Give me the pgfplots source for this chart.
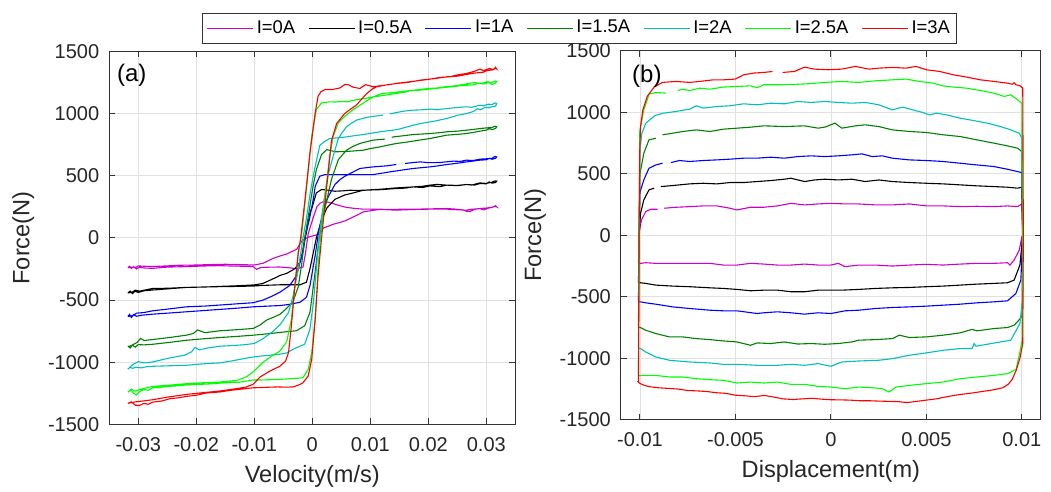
\documentclass[border=0pt]{standalone}
\usepackage{fontspec}
\setmainfont{Liberation Sans}
\usepackage{pgfplots}
\pgfplotsset{compat=1.18}
\definecolor{cM}{RGB}{204,0,204}
\definecolor{cK}{RGB}{0,0,0}
\definecolor{cB}{RGB}{0,0,255}
\definecolor{cDG}{RGB}{0,128,0}
\definecolor{cC}{RGB}{0,191,191}
\definecolor{cG}{RGB}{0,255,0}
\definecolor{cR}{RGB}{255,0,0}
\pgfplotsset{
  mat/.style={
    scale only axis,
    ymin=-1500, ymax=1500,
    ytick={-1500,-1000,-500,0,500,1000,1500},
    yticklabels={-1500,-1000,-500,0,500,1000,1500},
    scaled x ticks=false, scaled y ticks=false,
    grid=major,
    major grid style={draw=black!12, line width=0.4pt},
    axis line style={draw=black!80, line width=0.5pt},
    tick style={draw=black!80, line width=0.5pt},
    tick align=inside,
    major tick length=3pt,
    tick label style={font=\fontsize{10}{12}\selectfont, text=black!85},
    label style={font=\fontsize{11.8}{14}\selectfont, text=black!85},
    yticklabel style={xshift=-1.5pt},
    xticklabel style={yshift=-3pt},
    unbounded coords=jump,
    every axis plot/.append style={line width=0.55pt, no markers},
    ylabel={Force(N)},
  }
}
\begin{document}
\begin{tikzpicture}
\path[use as bounding box] (-54.65pt,-33.75pt) rectangle (470.85pt,212.25pt);
% ---------------- panel (a) ----------------
\begin{axis}[mat,
  at={(0pt,0pt)}, anchor=south west,
  width=203pt, height=186.6pt,
  xmin=-0.035, xmax=0.035,
  xtick={-0.03,-0.02,-0.01,0,0.01,0.02,0.03},
  xticklabels={-0.03,-0.02,-0.01,0,0.01,0.02,0.03},
  xlabel={Velocity(m/s)},
  legend columns=7,
  legend style={at={(1.1589,1.0622)}, anchor=center, draw=black!80, line width=0.5pt,
    font=\fontsize{9.2}{11}\selectfont, inner xsep=2pt, inner ysep=2pt,
    nodes={inner sep=1.5pt}, /tikz/every even column/.append style={column sep=5pt}},
  legend image code/.code={\draw[#1] (0pt,0pt) -- (23pt,0pt);},
]
% I=0A
\addplot[cM] coordinates {
(-0.0318,-240) (-0.0315,-228) (-0.0312,-245) (-0.0308,-232) (-0.0303,-250) (-0.0298,-235) (-0.029,-242) (-0.0275,-245) (-0.026,-238) (-0.025,-235) (-0.023,-232) (-0.0217,-231) (-0.02,-228) (-0.018,-225) (-0.016,-223) (-0.014,-226) (-0.012,-228) (-0.0102,-231) (-0.0096,-253) (-0.009,-240) (-0.0085,-237) (-0.007,-235) (-0.0056,-234) (-0.004,-240) (-0.0027,-248) (-0.0016,-234) (-0.0012,-130) (-0.0007,35) (0.0002,169) (0.0008,250) (0.0013,277) (0.0018,290) (0.0025,290) (0.0036,276) (0.0045,262) (0.0059,245) (0.0075,236) (0.0088,231) (0.0117,231) (0.013,226) (0.0145,223) (0.016,226) (0.0174,228) (0.019,230) (0.0203,231) (0.0232,231) (0.025,226) (0.0266,223) (0.0275,230) (0.0289,236) (0.03,240) (0.031,245) (0.0315,255) (0.0318,249)
(0.0316,258) (0.031,246) (0.0303,238) (0.0295,225) (0.0289,236) (0.028,230) (0.0272,212) (0.0266,214) (0.026,225) (0.0245,232) (0.0232,236) (0.021,234) (0.019,232) (0.0174,231) (0.015,230) (0.013,228) (0.0117,228) (0.0108,224) (0.01,218) (0.0088,209) (0.0078,185) (0.0071,169) (0.0065,156) (0.0056,136) (0.0045,121) (0.0035,108) (0.0028,94) (0.0019,80) (0.0015,45) (0.0008,25) (-0.0005,8) (-0.0012,-5) (-0.0018,-25) (-0.0027,-92) (-0.0044,-129) (-0.0056,-146) (-0.0067,-164) (-0.0085,-204) (-0.01,-218) (-0.012,-215) (-0.015,-212) (-0.018,-215) (-0.02,-218) (-0.023,-220) (-0.025,-225) (-0.0275,-230) (-0.029,-228) (-0.03,-225) (-0.0305,-240) (-0.031,-235) (-0.0318,-240)
};
\addlegendentry{I=0A}
% I=0.5A
\addplot[cK] coordinates {
(-0.0318,-441) (-0.0314,-428) (-0.031,-448) (-0.0306,-430) (-0.03,-438) (-0.029,-425) (-0.0275,-419) (-0.025,-410) (-0.0217,-398) (-0.019,-395) (-0.016,-392) (-0.013,-390) (-0.0102,-387) (-0.0085,-382) (-0.0056,-377) (-0.0035,-377) (-0.0021,-377) (-0.001,-356) (-0.0004,-248) (0.0002,-113) (0.0007,0)
(0.0015,130) (0.0025,240) (0.0039,310) (0.0056,345) (0.0065,355) (0.0088,383) (0.0117,391) (0.0145,402) (0.0174,410) (0.019,405) (0.0203,418) (0.022,412) (0.0232,424) (0.025,420) (0.0266,429) (0.0275,425) (0.0289,442) (0.03,438) (0.031,448) (0.0315,458) (0.0318,456)
(0.0316,445) (0.031,440) (0.0305,450) (0.03,435) (0.0289,437) (0.028,425) (0.0266,429) (0.025,422) (0.0232,424) (0.0215,430) (0.0203,424) (0.019,415) (0.0174,410) (0.016,400) (0.0145,397) (0.013,392) (0.012,388) (0.01,385) (0.009,383) (0.0075,382) (0.0065,383) (0.0052,378) (0.0039,375) (0.0025,385) (0.0016,389) (0.0007,362) (0,250) (-0.0004,201) (-0.0008,100) (-0.0012,0) (-0.0016,-110) (-0.0021,-194) (-0.003,-248) (-0.0044,-285) (-0.0056,-302) (-0.0062,-317) (-0.0085,-366) (-0.01,-378) (-0.013,-385) (-0.016,-390) (-0.0185,-395) (-0.0217,-398) (-0.025,-405) (-0.0275,-406) (-0.029,-420) (-0.0298,-428) (-0.0305,-420) (-0.0312,-440) (-0.0318,-441)
};
\addlegendentry{I=0.5A}
% I=1A
\addplot[cB] coordinates {
(-0.0318,-632) (-0.0315,-615) (-0.0312,-640) (-0.0308,-618) (-0.0303,-630) (-0.0295,-622) (-0.0275,-613) (-0.025,-605) (-0.0217,-594) (-0.019,-585) (-0.016,-575) (-0.013,-565) (-0.0102,-554) (-0.0075,-548) (-0.0056,-544) (-0.004,-535) (-0.0021,-517) (-0.001,-477) (-0.0004,-383) (0.0005,-140) (0.001,22)
(0.002,250) (0.0028,335) (0.0039,429) (0.0048,470) (0.0056,495) (0.0065,517) (0.0082,558) (0.0105,571) (0.0128,579) (0.0145,590) (0.0152,nan) (0.016,598) (0.0172,605) (0.0186,611) (0.02,605) (0.022,606) (0.0243,617) (0.0255,615) (0.0266,625) (0.0277,622) (0.0289,633) (0.03,636) (0.031,640) (0.0315,655) (0.0318,651)
(0.0316,640) (0.031,632) (0.0305,640) (0.03,628) (0.0289,625) (0.0275,616) (0.0266,611) (0.025,600) (0.0232,590) (0.0215,578) (0.0203,571) (0.0185,563) (0.0174,558) (0.015,542) (0.0134,531) (0.012,520) (0.0105,509) (0.008,509) (0.005,509) (0.0022,509) (0.0013,496) (0.0005,415) (0.0002,316) (-0.0005,150) (-0.0012,22) (-0.0018,-140) (-0.0027,-302) (-0.0039,-383) (-0.0056,-437) (-0.007,-470) (-0.0085,-500) (-0.0102,-521) (-0.013,-530) (-0.016,-540) (-0.0185,-548) (-0.0217,-554) (-0.0245,-570) (-0.0275,-586) (-0.029,-600) (-0.0303,-605) (-0.031,-625) (-0.0318,-632)
};
\addlegendentry{I=1A}
% I=1.5A
\addplot[cDG] coordinates {
(-0.0318,-870) (-0.0314,-885) (-0.031,-862) (-0.0305,-878) (-0.03,-858) (-0.029,-860) (-0.0275,-855) (-0.025,-842) (-0.0217,-823) (-0.019,-812) (-0.016,-801) (-0.013,-792) (-0.0102,-782) (-0.0075,-770) (-0.0056,-760) (-0.004,-752) (-0.0027,-746) (-0.0013,-706) (-0.0004,-598) (0.0002,-383) (0.0009,-113) (0.0012,0)
(0.002,200) (0.0033,469) (0.0045,630) (0.0059,705) (0.007,735) (0.0082,759) (0.0095,775) (0.0105,786) (0.0115,790) (0.0125,794) (0.0128,nan) (0.0137,808) (0.014,812) (0.0155,820) (0.0174,831) (0.019,835) (0.0203,839) (0.022,846) (0.0232,853) (0.025,858) (0.0266,866) (0.0278,872) (0.0289,879) (0.03,884) (0.031,888) (0.0315,898) (0.0318,893)
(0.0316,880) (0.031,870) (0.0305,878) (0.03,866) (0.0289,858) (0.028,850) (0.0266,839) (0.025,832) (0.0232,826) (0.022,815) (0.0203,799) (0.019,790) (0.0174,778) (0.016,768) (0.0145,759) (0.013,745) (0.0117,732) (0.01,718) (0.0088,705) (0.0075,700) (0.006,695) (0.004,692) (0.0025,710) (0.0016,670) (0.0007,549) (0,380) (-0.0007,170) (-0.0013,0) (-0.0018,-200) (-0.0024,-390) (-0.0033,-510) (-0.0045,-570) (-0.0056,-615) (-0.0068,-640) (-0.0079,-661) (-0.009,-700) (-0.0102,-728) (-0.013,-738) (-0.016,-747) (-0.0185,-762) (-0.0198,-740) (-0.0205,-768) (-0.0217,-782) (-0.0245,-800) (-0.0275,-817) (-0.029,-825) (-0.0296,-808) (-0.0302,-840) (-0.0308,-855) (-0.0314,-870) (-0.0318,-870)
};
\addlegendentry{I=1.5A}
% I=2A
\addplot[cC] coordinates {
(-0.0318,-1055) (-0.0314,-1040) (-0.031,-1048) (-0.0303,-1040) (-0.0295,-1045) (-0.0285,-1035) (-0.0275,-1032) (-0.026,-1030) (-0.024,-1027) (-0.0217,-1024) (-0.0195,-1015) (-0.018,-1010) (-0.016,-1005) (-0.014,-990) (-0.012,-972) (-0.0102,-957) (-0.0085,-948) (-0.0073,-943) (-0.0056,-935) (-0.0044,-925) (-0.0033,-895) (-0.0022,-872) (-0.0013,-854) (-0.0004,-733) (0.0002,-517) (0.0007,-248) (0.0012,22)
(0.002,300) (0.0028,520) (0.0036,657) (0.0045,800) (0.0052,850) (0.0059,893) (0.0067,920) (0.0076,946) (0.0088,962) (0.0099,973) (0.011,980) (0.0122,987) (0.0125,nan) (0.0134,997) (0.0137,1000) (0.015,1012) (0.016,1020) (0.0174,1027) (0.019,1030) (0.0205,1035) (0.0215,1030) (0.0232,1040) (0.025,1048) (0.0266,1054) (0.0275,1050) (0.0289,1067) (0.0295,1062) (0.0303,1075) (0.031,1072) (0.0315,1085) (0.0318,1080)
(0.0316,1060) (0.031,1055) (0.0305,1045) (0.0298,1050) (0.029,1030) (0.0285,1038) (0.0277,1015) (0.0266,1000) (0.025,985) (0.0232,960) (0.021,938) (0.019,922) (0.0174,906) (0.016,888) (0.015,875) (0.014,866) (0.0128,860) (0.0117,853) (0.01,840) (0.0088,831) (0.007,820) (0.0059,812) (0.0045,805) (0.003,799) (0.0022,777) (0.0013,745) (0.0005,576) (-0.0003,380) (-0.001,160) (-0.0016,0) (-0.0018,-59) (-0.0024,-248) (-0.0033,-464) (-0.0041,-600) (-0.0056,-700) (-0.007,-760) (-0.0085,-810) (-0.01,-849) (-0.012,-860) (-0.014,-866) (-0.016,-871) (-0.018,-885) (-0.0195,-900) (-0.0202,-880) (-0.0208,-915) (-0.022,-943) (-0.0246,-965) (-0.0275,-997) (-0.029,-1005) (-0.03,-995) (-0.031,-1020) (-0.0318,-1055)
};
\addlegendentry{I=2A}
% I=2.5A
\addplot[cG] coordinates {
(-0.0318,-1240) (-0.0313,-1222) (-0.0308,-1250) (-0.0303,-1262) (-0.0298,-1235) (-0.029,-1218) (-0.0283,-1225) (-0.0275,-1205) (-0.026,-1200) (-0.025,-1195) (-0.0235,-1190) (-0.0217,-1182) (-0.02,-1178) (-0.018,-1175) (-0.016,-1168) (-0.014,-1162) (-0.0125,-1160) (-0.0115,-1152) (-0.0102,-1142) (-0.0088,-1142) (-0.0073,-1140) (-0.006,-1138) (-0.0044,-1134) (-0.003,-1130) (-0.0016,-1124) (-0.0007,-1056) (-0.0001,-922) (0.0005,-652) (0.001,-248) (0.0014,0)
(0.0022,350) (0.003,650) (0.0036,817) (0.0045,925) (0.0056,978) (0.007,1030) (0.008,1060) (0.009,1090) (0.0105,1134) (0.012,1160) (0.014,1169) (0.016,1180) (0.018,1190) (0.02,1201) (0.0215,1205) (0.023,1215) (0.0245,1222) (0.026,1233) (0.0275,1245) (0.028,1250) (0.029,1240) (0.0301,1255) (0.031,1250) (0.0315,1262) (0.0318,1258)
(0.0316,1245) (0.031,1232) (0.0305,1250) (0.0295,1238) (0.0285,1242) (0.028,1232) (0.027,1228) (0.026,1225) (0.024,1215) (0.022,1205) (0.02,1195) (0.018,1185) (0.0176,1183) (0.0172,nan) (0.0166,1176) (0.0163,1174) (0.015,1165) (0.0134,1153) (0.012,1143) (0.0105,1134) (0.0092,1122) (0.0082,1115) (0.007,1105) (0.006,1094) (0.005,1098) (0.004,1092) (0.003,1094) (0.0016,1085) (0.0007,1032) (-0.0001,817) (-0.0008,500) (-0.0014,220) (-0.0019,0) (-0.0024,-113) (-0.003,-383) (-0.0036,-652) (-0.0044,-835) (-0.0056,-910) (-0.007,-950) (-0.0085,-1000) (-0.0102,-1078) (-0.0114,-1118) (-0.013,-1145) (-0.016,-1159) (-0.019,-1165) (-0.0217,-1172) (-0.025,-1185) (-0.0275,-1194) (-0.029,-1210) (-0.0298,-1220) (-0.0305,-1232) (-0.0312,-1215) (-0.0318,-1240)
};
\addlegendentry{I=2.5A}
% I=3A
\addplot[cR] coordinates {
(-0.0318,-1330) (-0.0312,-1318) (-0.0305,-1345) (-0.0298,-1347) (-0.029,-1330) (-0.0283,-1338) (-0.0275,-1320) (-0.026,-1312) (-0.0246,-1293) (-0.023,-1285) (-0.0217,-1274) (-0.02,-1265) (-0.0183,-1247) (-0.016,-1239) (-0.0145,-1228) (-0.0131,-1220) (-0.0115,-1212) (-0.0102,-1205) (-0.009,-1203) (-0.0073,-1200) (-0.006,-1198) (-0.0044,-1200) (-0.0033,-1198) (-0.0022,-1180) (-0.0016,-1164) (-0.0007,-1110) (-0.0001,-976) (0.0005,-652) (0.001,-302) (0.0016,0)
(0.0025,420) (0.0033,780) (0.0042,920) (0.0056,1000) (0.0066,1035) (0.0076,1067) (0.0085,1115) (0.0094,1161) (0.0103,1195) (0.0111,1215) (0.0128,1230) (0.0145,1241) (0.0165,1250) (0.0186,1268) (0.021,1280) (0.0232,1295) (0.025,1300) (0.0266,1314) (0.028,1325) (0.0295,1332) (0.0301,1345) (0.031,1350) (0.0316,1362) (0.0318,1357)
(0.0316,1372) (0.0312,1352) (0.0306,1362) (0.0295,1345) (0.0289,1357) (0.028,1340) (0.0266,1322) (0.025,1310) (0.0237,1295) (0.022,1290) (0.0203,1276) (0.0185,1265) (0.0168,1255) (0.015,1245) (0.0134,1233) (0.012,1225) (0.0105,1215) (0.0092,1232) (0.0082,1201) (0.007,1212) (0.0062,1232) (0.0056,1233) (0.0048,1206) (0.004,1198) (0.0035,1193) (0.0022,1193) (0.0015,1175) (0.001,1139) (0.0005,1005) (-0.0004,683) (-0.0012,330) (-0.002,0) (-0.0024,-113) (-0.003,-383) (-0.0036,-706) (-0.0041,-922) (-0.0046,-990) (-0.0056,-1032) (-0.0073,-1070) (-0.009,-1118) (-0.0102,-1177) (-0.0115,-1200) (-0.0131,-1212) (-0.016,-1231) (-0.019,-1245) (-0.0217,-1258) (-0.025,-1280) (-0.0275,-1301) (-0.029,-1310) (-0.0305,-1318) (-0.0318,-1330)
};
\addlegendentry{I=3A}
\node[anchor=north west, inner sep=0pt, font=\fontsize{12}{14}\selectfont] at (rel axis cs:0.018,0.966) {(a)};
\end{axis}
% ---------------- panel (b) ----------------
\begin{axis}[mat,
  at={(255.8pt,2.35pt)}, anchor=south west,
  width=210pt, height=184.5pt,
  xmin=-0.011, xmax=0.011,
  xtick={-0.01,-0.005,0,0.005,0.01},
  xticklabels={-0.01,-0.005,0,0.005,0.01},
  xlabel={Displacement(m)},
]
\addplot[cM] coordinates {
(-0.01008,-228) (-0.01005,0) (-0.01002,43) (-0.00992,125) (-0.0097,193) (-0.00944,212) (-0.00908,212) (-0.0089,nan) (-0.00873,220) (-0.00811,228) (-0.0074,233) (-0.00669,239) (-0.00598,239) (-0.00528,220) (-0.00492,206) (-0.00421,228) (-0.00351,228) (-0.0028,239) (-0.00209,260) (-0.00138,247) (-0.00067,255) (0,260) (0.00074,255) (0.00145,255) (0.00234,247) (0.00322,247) (0.00411,255) (0.005,239) (0.00588,239) (0.00677,233) (0.00765,236) (0.00854,233) (0.00925,239) (0.00978,233) (0.01,255) (0.01005,0) (0.01,-13) (0.00987,-120) (0.0096,-201) (0.00938,-242) (0.00925,-223) (0.00854,-228) (0.00765,-228) (0.00677,-234) (0.00588,-242) (0.005,-236) (0.00411,-242) (0.00322,-250) (0.00234,-242) (0.00145,-242) (0.00074,-255) (0.00039,-228) (0,-242) (-0.00067,-242) (-0.00138,-234) (-0.00209,-242) (-0.0028,-242) (-0.00351,-234) (-0.00421,-228) (-0.00492,-242) (-0.00563,-242) (-0.00634,-228) (-0.0074,-228) (-0.00829,-228) (-0.00917,-228) (-0.0097,-223) (-0.00997,-228) (-0.01008,-228)
};
\addplot[cK] coordinates {
(-0.01008,-386) (-0.01005,0) (-0.00997,179) (-0.0098,288) (-0.00953,369) (-0.00926,383) (-0.0091,nan) (-0.00891,396) (-0.00846,402) (-0.00793,410) (-0.0074,418) (-0.00669,423) (-0.00598,418) (-0.00528,429) (-0.00457,429) (-0.00386,437) (-0.00315,445) (-0.00244,456) (-0.00209,464) (-0.00138,437) (-0.00085,450) (-0.00032,456) (0.00039,450) (0.0011,456) (0.0018,437) (0.00251,450) (0.00322,437) (0.00411,429) (0.005,423) (0.00588,418) (0.00677,410) (0.00765,402) (0.00854,396) (0.00925,391) (0.00978,383) (0.01,391) (0.01005,0) (0.0099,-242) (0.0096,-364) (0.00925,-386) (0.00854,-391) (0.00765,-397) (0.00677,-405) (0.00588,-413) (0.005,-418) (0.00411,-424) (0.00322,-427) (0.00234,-432) (0.00145,-440) (0.00057,-446) (0,-446) (-0.00067,-446) (-0.00138,-459) (-0.00209,-459) (-0.0028,-446) (-0.00351,-446) (-0.00421,-451) (-0.00492,-440) (-0.00563,-432) (-0.00634,-427) (-0.0074,-418) (-0.00829,-413) (-0.00917,-405) (-0.0097,-391) (-0.00997,-386) (-0.01008,-386)
};
\addplot[cB] coordinates {
(-0.01008,-540) (-0.01005,0) (-0.01,350) (-0.0098,450) (-0.00953,545) (-0.00917,572) (-0.00882,586) (-0.0086,nan) (-0.00838,591) (-0.00793,608) (-0.0074,600) (-0.00669,608) (-0.00598,613) (-0.00528,619) (-0.00457,627) (-0.00386,627) (-0.00315,635) (-0.00244,627) (-0.00174,640) (-0.00103,646) (-0.00032,640) (0.00039,646) (0.0011,654) (0.00163,662) (0.00216,640) (0.00269,646) (0.00322,627) (0.00411,613) (0.005,608) (0.00588,600) (0.00677,586) (0.00765,572) (0.00854,559) (0.00925,537) (0.00978,518) (0.01,510) (0.01005,0) (0.00995,-364) (0.00969,-473) (0.00925,-533) (0.00854,-541) (0.00765,-549) (0.00677,-560) (0.00588,-568) (0.005,-576) (0.00411,-582) (0.00322,-587) (0.00234,-595) (0.00145,-609) (0.00074,-614) (0,-636) (-0.00067,-630) (-0.00138,-641) (-0.00209,-630) (-0.0028,-622) (-0.00351,-630) (-0.00386,-636) (-0.00492,-614) (-0.00563,-614) (-0.00634,-609) (-0.0074,-595) (-0.00829,-582) (-0.00917,-560) (-0.0097,-549) (-0.00997,-541) (-0.01008,-540)
};
\addplot[cDG] coordinates {
(-0.01008,-750) (-0.01005,0) (-0.01,500) (-0.0098,667) (-0.00953,776) (-0.00917,789) (-0.009,nan) (-0.00882,817) (-0.00829,830) (-0.00776,844) (-0.00705,857) (-0.00634,844) (-0.00563,863) (-0.00492,871) (-0.00421,879) (-0.00351,890) (-0.00244,884) (-0.00138,890) (-0.00067,871) (-0.0003,880) (0.00021,912) (0.00057,871) (0.00128,890) (0.0018,898) (0.00251,884) (0.00322,857) (0.00411,844) (0.005,836) (0.00588,817) (0.00677,803) (0.00765,776) (0.00854,749) (0.00925,727) (0.00978,708) (0.01,681) (0.01005,0) (0.01003,-550) (0.01,-663) (0.0096,-731) (0.00925,-750) (0.00854,-758) (0.00765,-777) (0.0074,-765) (0.00677,-793) (0.00588,-812) (0.005,-826) (0.00411,-831) (0.00358,-812) (0.00322,-840) (0.00234,-848) (0.00145,-853) (0.0011,-867) (0.00039,-880) (-0.00032,-886) (-0.00103,-880) (-0.00174,-884) (-0.00244,-867) (-0.00315,-880) (-0.00386,-875) (-0.00421,-894) (-0.00492,-867) (-0.00563,-859) (-0.00634,-848) (-0.00705,-840) (-0.00776,-826) (-0.00846,-826) (-0.00917,-799) (-0.0097,-772) (-0.00997,-750) (-0.01008,-750)
};
\addplot[cC] coordinates {
(-0.01008,-920) (-0.01005,0) (-0.01,700) (-0.0099,830) (-0.0097,910) (-0.0094,950) (-0.0092,975) (-0.0088,992) (-0.00811,1007) (-0.0074,1026) (-0.00705,1053) (-0.00669,1034) (-0.00598,1047) (-0.00528,1053) (-0.00457,1069) (-0.00386,1061) (-0.00315,1074) (-0.00244,1069) (-0.00174,1088) (-0.00103,1080) (-0.00032,1088) (0.00039,1080) (0.0011,1074) (0.0018,1080) (0.00251,1061) (0.00322,1020) (0.00375,1042) (0.00429,1020) (0.00482,998) (0.00517,979) (0.00553,993) (0.00606,979) (0.00677,952) (0.00747,933) (0.00818,912) (0.00889,884) (0.00942,857) (0.00987,830) (0.01,789) (0.01005,0) (0.01003,-530) (0.0099,-717) (0.00942,-853) (0.00889,-867) (0.00818,-886) (0.0076,-902) (0.0075,-880) (0.0074,-920) (0.00677,-921) (0.00588,-935) (0.005,-956) (0.00411,-975) (0.00322,-1003) (0.00251,-1016) (0.00145,-1022) (0.00057,-1030) (0,-1065) (-0.00067,-1043) (-0.00138,-1057) (-0.00209,-1049) (-0.0028,-1057) (-0.00386,-1057) (-0.00492,-1049) (-0.00563,-1049) (-0.00634,-1038) (-0.0074,-1030) (-0.00846,-1016) (-0.00917,-989) (-0.0097,-948) (-0.00997,-921) (-0.01008,-920)
};
\addplot[cG] coordinates {
(-0.01008,-1140) (-0.01005,0) (-0.01001,850) (-0.0098,1020) (-0.0096,1110) (-0.00953,1148) (-0.00917,1161) (-0.00864,1156) (-0.0084,nan) (-0.00802,1177) (-0.00776,1188) (-0.0074,1177) (-0.00687,1196) (-0.00634,1188) (-0.00563,1205) (-0.00492,1210) (-0.00421,1215) (-0.00386,1200) (-0.00351,1224) (-0.0028,1224) (-0.002,1226) (-0.0012,1232) (-0.0003,1243) (0.00057,1251) (0.00145,1243) (0.00234,1256) (0.00322,1264) (0.00393,1270) (0.00464,1251) (0.00535,1237) (0.00588,1215) (0.00641,1205) (0.00712,1196) (0.00783,1177) (0.00854,1156) (0.00907,1129) (0.00942,1142) (0.00978,1101) (0.01,1074) (0.01005,0) (0.01002,-850) (0.0099,-950) (0.0097,-1090) (0.00925,-1125) (0.00854,-1139) (0.00765,-1152) (0.00677,-1166) (0.00588,-1193) (0.005,-1206) (0.00411,-1220) (0.0034,-1234) (0.00305,-1274) (0.00269,-1247) (0.00216,-1239) (0.00145,-1234) (0.00074,-1247) (0,-1234) (-0.00067,-1228) (-0.00138,-1212) (-0.00209,-1212) (-0.0028,-1193) (-0.00351,-1201) (-0.00421,-1193) (-0.00492,-1201) (-0.00563,-1179) (-0.00634,-1174) (-0.00705,-1166) (-0.00776,-1152) (-0.00846,-1152) (-0.00917,-1139) (-0.0097,-1139) (-0.00992,-1139) (-0.01005,-1142) (-0.01008,-1140)
};
\addplot[cR] coordinates {
(-0.01008,-1190) (-0.01005,0) (-0.01001,700) (-0.00997,884) (-0.00985,1020) (-0.00962,1129) (-0.00926,1205) (-0.00882,1243) (-0.00811,1251) (-0.0074,1243) (-0.00687,1251) (-0.00616,1264) (-0.00563,1264) (-0.00501,1270) (-0.00457,1305) (-0.00404,1319) (-0.00351,1324) (-0.00306,1332) (-0.0028,nan) (-0.00253,1324) (-0.00191,1332) (-0.00138,1367) (-0.00085,1351) (-0.00014,1346) (0.00057,1351) (0.00128,1373) (0.00198,1351) (0.00252,1359) (0.00322,1365) (0.00393,1359) (0.00446,1373) (0.005,1346) (0.0057,1332) (0.00641,1305) (0.00712,1286) (0.00783,1264) (0.00854,1251) (0.00925,1237) (0.0095,1228) (0.0096,1240) (0.00969,1224) (0.00992,1215) (0.01005,1196) (0.01008,0) (0.01005,-880) (0.0099,-1000) (0.0097,-1100) (0.0095,-1170) (0.0093,-1210) (0.009,-1240) (0.0087,-1250) (0.0083,-1262) (0.008,-1268) (0.0075,-1280) (0.007,-1290) (0.0065,-1300) (0.006,-1315) (0.0055,-1330) (0.005,-1340) (0.0045,-1350) (0.004,-1360) (0.0035,-1352) (0.003,-1350) (0.0025,-1348) (0.002,-1345) (0.0015,-1345) (0.001,-1340) (0.0005,-1338) (0,-1337) (-0.0005,-1332) (-0.001,-1325) (-0.0015,-1330) (-0.002,-1335) (-0.0025,-1330) (-0.003,-1315) (-0.0035,-1302) (-0.004,-1312) (-0.0045,-1305) (-0.005,-1300) (-0.0055,-1285) (-0.006,-1280) (-0.0065,-1270) (-0.007,-1265) (-0.0075,-1262) (-0.008,-1250) (-0.0085,-1245) (-0.009,-1240) (-0.0093,-1235) (-0.0096,-1228) (-0.0098,-1218) (-0.01,-1205) (-0.0101,-1190) (-0.01008,-1190)
};
\node[anchor=north west, inner sep=0pt, font=\fontsize{12}{14}\selectfont] at (rel axis cs:0.026,0.963) {(b)};
\end{axis}
\end{tikzpicture}
\end{document}
